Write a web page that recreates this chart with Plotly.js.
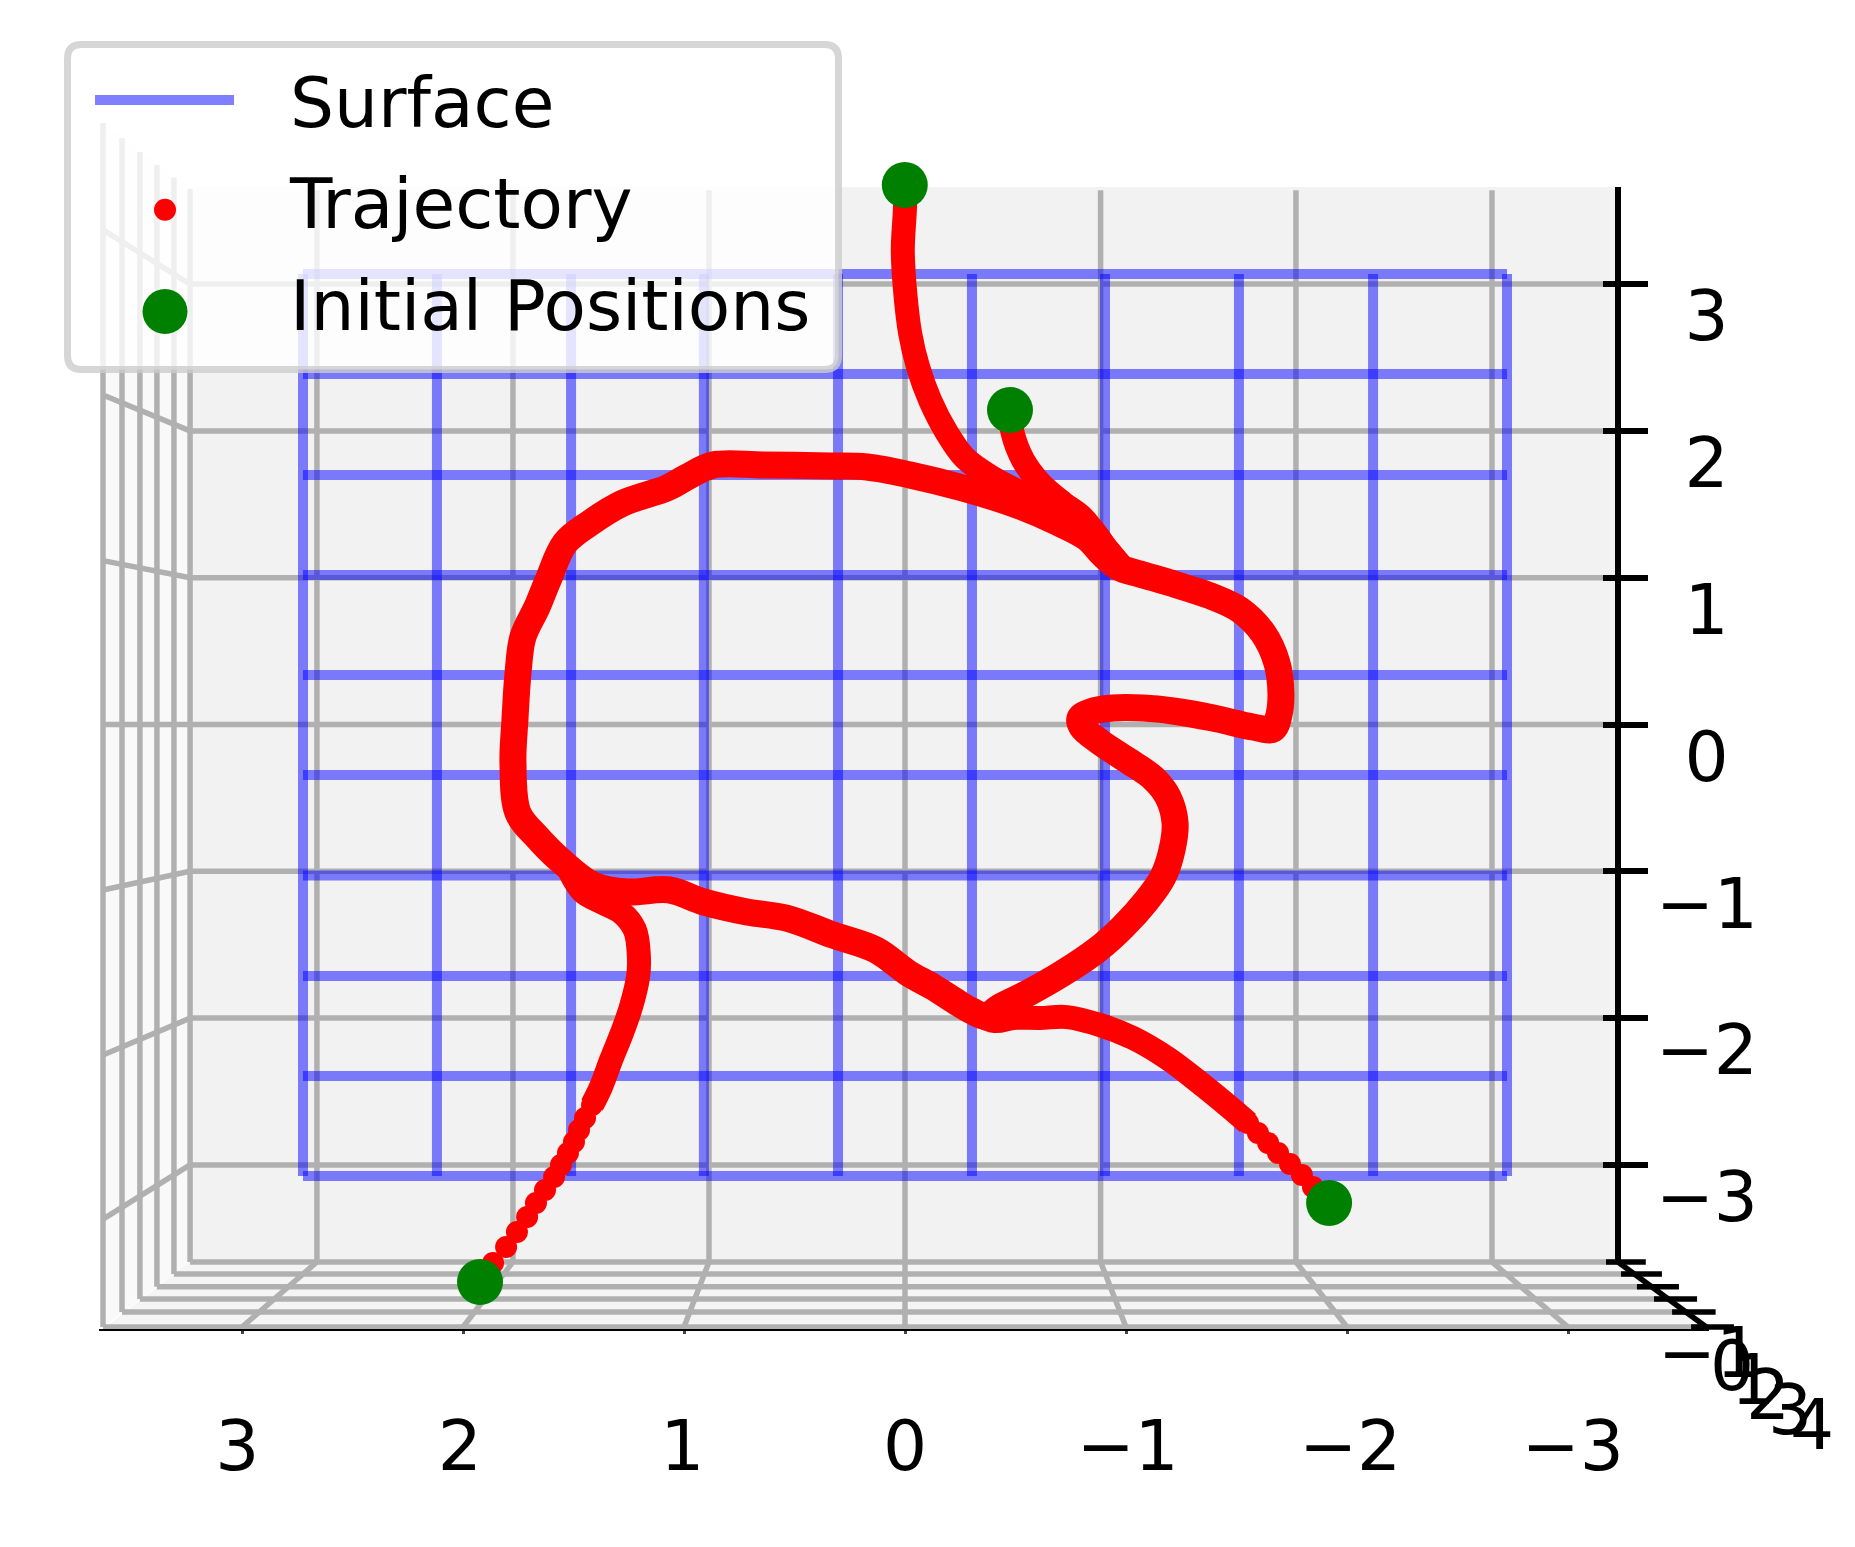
<!DOCTYPE html>
<html>
<head>
<meta charset="utf-8">
<script src="https://cdn.plot.ly/plotly-3.0.1.min.js"></script>
<style>body{margin:0;background:#fff}</style>
</head>
<body>
<div id="chart"></div>
<script>
// wireframe surface
var surfaceX = [2.724,2.118,1.511,0.910,0.303,-0.303,-0.905,-1.511,-2.118,-2.724];
var surfaceZ = [3.069,2.388,1.700,1.018,0.337,-0.344,-1.029,-1.713,-2.394,-3.076];

// trajectory tails as lines (null = new particle)
var trajLineX = [0,0,0.01,0,-0.023,-0.059,-0.113,-0.19,-0.271,-0.398,-0.566,-0.715,-0.837,-0.91,-0.986,null,
  -0.475,-0.487,-0.534,-0.611,-0.715,-0.805,-0.91,-0.986,null,
  1.416,1.376,1.33,1.281,1.24,1.208,1.204,1.222,1.281,1.376,1.457,1.516,null,
  -1.552,-1.484,-1.335,-1.186,-1.032,-0.882,-0.733,-0.611,-0.489,-0.407,-0.317];
var trajLineZ = [3.64,3.525,3.232,2.96,2.667,2.435,2.211,1.986,1.815,1.679,1.55,1.448,1.345,1.202,1.066,null,
  2.142,1.986,1.802,1.645,1.509,1.407,1.202,1.066,null,
  -2.592,-2.469,-2.285,-2.102,-1.924,-1.72,-1.584,-1.4,-1.284,-1.209,-1.141,-1.005,null,
  -2.715,-2.626,-2.442,-2.272,-2.136,-2.047,-1.993,-1.999,-1.999,-2.02,-1.966];

// the big loop where the particles end up
var loopX = [-0.896,-0.964,-1.063,-1.186,-1.394,-1.516,-1.62,-1.683,-1.701,-1.692,-1.665,-1.575,-1.394,-1.213,-1.077,-0.941,-0.837,-0.792,-0.801,-0.882,-1.005,-1.122,-1.19,-1.222,-1.208,-1.167,-1.095,-0.986,-0.869,-0.715,-0.566,-0.43,-0.367,-0.303,-0.24,-0.127,-0.014,0.131,0.326,0.538,0.715,0.91,1.068,1.258,1.412,1.561,1.665,1.751,1.774,1.765,1.751,1.729,1.665,1.615,1.538,1.425,1.276,1.077,0.986,0.869,0.643,0.339,0.172,-0.023,-0.262,-0.507,-0.688,-0.824,-0.896];
var loopZ = [1.155,1.073,1.025,0.971,0.869,0.78,0.623,0.419,0.215,0.065,-0.031,-0.017,0.044,0.092,0.112,0.112,0.085,0.044,-0.017,-0.119,-0.242,-0.364,-0.494,-0.671,-0.855,-1.039,-1.196,-1.379,-1.536,-1.693,-1.822,-1.924,-1.986,-1.952,-1.897,-1.788,-1.693,-1.536,-1.434,-1.318,-1.277,-1.209,-1.127,-1.141,-1.093,-0.923,-0.766,-0.603,-0.262,0.031,0.351,0.596,0.8,0.984,1.236,1.373,1.509,1.611,1.686,1.768,1.768,1.761,1.754,1.7,1.611,1.495,1.379,1.27,1.155];

// first steps of the two fast particles, where single dots can be seen
var trajDotX = [1.864,1.805,1.756,1.71,1.67,1.629,1.588,1.557,1.525,1.498,1.475,1.448,1.416,
  -1.846,-1.796,-1.742,-1.688,-1.643,-1.597,-1.552];
var trajDotZ = [-3.668,-3.559,-3.457,-3.355,-3.26,-3.171,-3.083,-3.001,-2.919,-2.844,-2.762,-2.681,-2.592,
  -3.151,-3.069,-2.994,-2.919,-2.851,-2.783,-2.715];

var initX = [0.001,-0.475,1.923,-1.919];
var initZ = [3.675,2.142,-3.798,-3.26];

// 3d box as seen from the front
var backGridX = [2.661,1.774,0.887,0,-0.885,-1.769,-2.656];
var frontGridX = [3,2,1,0,-1,-2,-3];
var backGridZ = [3,2,1,0,-1,-2,-3];
var wallFrontZ = [3.369,2.245,1.116,0,-1.127,-2.251,-3.369];
var wallX = [3.235,3.308,3.385,3.462,3.543,3.629];
var wallTopZ = [3.648,3.726,3.811,3.9,3.995,4.097];
var floorZ = [-3.661,-3.743,-3.83,-3.913,-4.002,-4.104];
var floorRightX = [-3.226,-3.299,-3.371,-3.452,-3.534,-3.624];

// tick labels
var xTicks = [3,2,1,0,-1,-2,-3];
var xTickText = ['3','2','1','0','\u22121','\u22122','\u22123'];
var zTicks = [3,2,1,0,-1,-2,-3];
var zTickText = ['\u00a0\u200a3','\u00a0\u200a2','\u00a0\u200a1','\u00a0\u200a0','\u22121','\u22122','\u22123'];
var depthTickLeftX = [-3.172,-3.24,-3.312,-3.389,-3.471,-3.557];
var depthTickRightX = [-3.352,-3.425,-3.502,-3.584,-3.668,-3.751];
var depthLabelX = [-3.638,-3.742,-3.837,-3.905,-4.005,-4.104];
var depthLabelZ = [-4.329,-4.418,-4.513,-4.615,-4.717,-4.82];
var depthLabels = ['\u22121','0','1','2','3','4'];

var W = 1855, H = 1547;
var FONT = 'DejaVu Sans';
var FS = 69.4;
var GRID = '#b0b0b0';

function segs(a1, b1, a2, b2) {
  var a = [], b = [];
  for (var i = 0; i < a1.length; i++) {
    a.push(a1[i], a2[i], null);
    b.push(b1[i], b2[i], null);
  }
  return [a, b];
}
function rep(v, n) { var a = []; for (var i = 0; i < n; i++) a.push(v); return a; }

function lineTrace(s, color, width, extra) {
  var t = {x: s[0], y: s[1], mode: 'lines', line: {color: color, width: width}, hoverinfo: 'skip', showlegend: false};
  for (var k in extra) t[k] = extra[k];
  return t;
}
function pane(x, y, color) {
  return {x: x, y: y, mode: 'lines', fill: 'toself', fillcolor: color, line: {width: 0}, hoverinfo: 'skip', showlegend: false};
}

var n = backGridX.length;
var bTop = 3.64, bBot = -3.661, bL = 3.235, bR = -3.226;

var data = [
  pane([bL,bR,bR,bL], [3.661,3.661,-3.661,-3.661], '#f2f2f2'),
  pane([bL,bL,3.629,3.629], [3.661,-3.661,-4.104,4.097], '#f9f9f9'),
  pane([bL,bR,-3.638,3.629], [-3.661,-3.661,-4.118,-4.118], '#f5f5f5'),

  // back wall
  lineTrace(segs(backGridX, rep(bTop,n), backGridX, rep(bBot,n)), GRID, 5.5),
  lineTrace(segs(rep(bL,n), backGridZ, rep(bR,n), backGridZ), GRID, 5.5),
  // left wall
  lineTrace(segs(wallX, wallTopZ, wallX, floorZ), GRID, 5.5),
  lineTrace(segs(rep(bL,n), backGridZ, rep(3.629,n), wallFrontZ), GRID, 5.5),
  // floor
  lineTrace(segs(wallX, floorZ, floorRightX, floorZ), GRID, 5.5),
  lineTrace(segs(backGridX, rep(bBot,n), frontGridX, rep(-4.104,n)), GRID, 5.5),

  // surface
  lineTrace(segs(surfaceX, rep(surfaceZ[0],10), surfaceX, rep(surfaceZ[9],10)), 'rgba(0,0,255,0.5)', 10,
    {name: 'Surface', showlegend: true, legendgroup: 'a'}),
  lineTrace(segs(rep(surfaceX[0],10), surfaceZ, rep(surfaceX[9],10), surfaceZ), 'rgba(0,0,255,0.5)', 10),

  // trajectory
  {x: trajLineX, y: trajLineZ, mode: 'lines', line: {color: 'red', width: 24, shape: 'spline', smoothing: 1}, hoverinfo: 'skip', showlegend: false},
  {x: loopX, y: loopZ, mode: 'lines', line: {color: 'red', width: 27, shape: 'spline', smoothing: 1}, hoverinfo: 'skip', showlegend: false},
  {x: trajDotX, y: trajDotZ, mode: 'markers', name: 'Trajectory', legendgroup: 'b', marker: {color: 'red', size: 22}, hoverinfo: 'skip'},

  {x: initX, y: initZ, mode: 'markers', name: 'Initial Positions', legendgroup: 'c', marker: {color: 'green', size: 46}, hoverinfo: 'skip'},

  // depth axis lives on a full page overlay, it runs past the x axis end
  lineTrace([[bR,-3.638],[bBot,-4.118]], '#000', 5.5, {xaxis: 'x2', yaxis: 'y3'}),
  lineTrace(segs(depthTickLeftX, floorZ, depthTickRightX, floorZ), '#000', 5.5, {xaxis: 'x2', yaxis: 'y3'}),
  {x: depthLabelX, y: depthLabelZ, text: depthLabels, xaxis: 'x2', yaxis: 'y3', mode: 'text', textposition: 'middle center',
    textfont: {family: FONT, size: FS, color: '#000'}, hoverinfo: 'skip', showlegend: false},

  // keep the z axis and the x label axis alive
  {x: [0], y: [0], yaxis: 'y2', mode: 'markers', marker: {opacity: 0}, hoverinfo: 'skip', showlegend: false},
  {x: [0], y: [0], xaxis: 'x3', mode: 'markers', marker: {opacity: 0}, hoverinfo: 'skip', showlegend: false}
];

// legend frame
var fL = 67.5, fR = 838.5, fT = 44.5, fB = 369.5, r = 14;
function px(v) { return (v / W).toFixed(5); }
function py(v) { return (1 - v / H).toFixed(5); }
var framePath = 'M' + px(fL + r) + ',' + py(fT) + ' L' + px(fR - r) + ',' + py(fT) +
  ' Q' + px(fR) + ',' + py(fT) + ' ' + px(fR) + ',' + py(fT + r) +
  ' L' + px(fR) + ',' + py(fB - r) + ' Q' + px(fR) + ',' + py(fB) + ' ' + px(fR - r) + ',' + py(fB) +
  ' L' + px(fL + r) + ',' + py(fB) + ' Q' + px(fL) + ',' + py(fB) + ' ' + px(fL) + ',' + py(fB - r) +
  ' L' + px(fL) + ',' + py(fT + r) + ' Q' + px(fL) + ',' + py(fT) + ' ' + px(fL + r) + ',' + py(fT) + ' Z';

var layout = {
  width: W, height: H,
  margin: {l: 0, r: 0, t: 0, b: 0},
  paper_bgcolor: '#fff', plot_bgcolor: 'rgba(0,0,0,0)',
  font: {family: FONT, size: FS, color: '#000'},
  hovermode: false,
  xaxis: {
    domain: [99 / W, 1709 / W], range: [3.6471, -3.638], anchor: 'y',
    showgrid: false, zeroline: false, showline: true, linecolor: '#000', linewidth: 2, layer: 'below traces',
    tickmode: 'array', tickvals: xTicks, ticks: 'outside', ticklen: 3, tickwidth: 3, showticklabels: false
  },
  // matplotlib pushes the x labels out a bit wider than the ticks
  xaxis3: {
    overlaying: 'x', anchor: 'y', range: [3.6217, -3.6127],
    showgrid: false, zeroline: false, showline: false,
    tickmode: 'array', tickvals: xTicks, ticktext: xTickText, ticks: '',
    ticklabelstandoff: 71, tickfont: {family: FONT, size: FS}
  },
  yaxis: {
    domain: [(H - 1329) / H, (H - 100) / H], range: [-4.1178, 4.2541], anchor: 'x',
    visible: false
  },
  yaxis2: {
    domain: [(H - 1262) / H, (H - 187) / H], range: [-3.661, 3.661], anchor: 'free', position: 1618 / W, side: 'right',
    showgrid: false, zeroline: false, showline: true, linecolor: '#000', linewidth: 5.5,
    tickmode: 'array', tickvals: zTicks, ticktext: zTickText, ticks: 'outside', ticklen: 27, tickwidth: 5.5, tickcolor: '#000',
    minor: {ticks: 'inside', ticklen: 12, tickwidth: 5.5, tickcolor: '#000', tickmode: 'array', tickvals: zTicks},
    ticklabelstandoff: -6, ticklabelshift: 32, tickfont: {family: FONT, size: FS}
  },
  xaxis2: {domain: [0, 1], range: [905 / 221, -950 / 221], anchor: 'y3', visible: false},
  yaxis3: {domain: [0, 1], range: [-822.5 / 146.8, 724.5 / 146.8], anchor: 'x2', visible: false},
  legend: {
    x: 85 / W, y: 1 - 48 / H, xanchor: 'left', yanchor: 'top',
    bgcolor: 'rgba(0,0,0,0)', borderwidth: 0, itemwidth: 195,
    traceorder: 'grouped', tracegroupgap: 8.5, font: {family: FONT, size: FS, color: '#000'}
  },
  shapes: [{type: 'path', xref: 'paper', yref: 'paper', layer: 'above', path: framePath,
    fillcolor: 'rgba(255,255,255,0.8)', line: {color: 'rgba(204,204,204,0.8)', width: 7}}]
};

Plotly.newPlot('chart', data, layout, {displayModeBar: false}).then(function () {
  // plotly caps legend symbols at 16px and ties them to itemwidth, the reference differs
  var rows = document.querySelectorAll('.legend .traces');
  var scales = [1, 22 / 16, 45 / 16];
  var dy = [0.5, 8.5, 8.5];
  rows.forEach(function (row, i) {
    row.querySelectorAll('.legendlines path').forEach(function (p) {
      p.setAttribute('d', 'M10,' + dy[i] + 'h139');
      p.style.strokeWidth = '10px';
    });
    row.querySelectorAll('.legendpoints path').forEach(function (p) {
      p.setAttribute('transform', 'translate(80,' + dy[i] + ') scale(' + scales[i] + ')');
    });
  });
});
</script>
</body>
</html>
